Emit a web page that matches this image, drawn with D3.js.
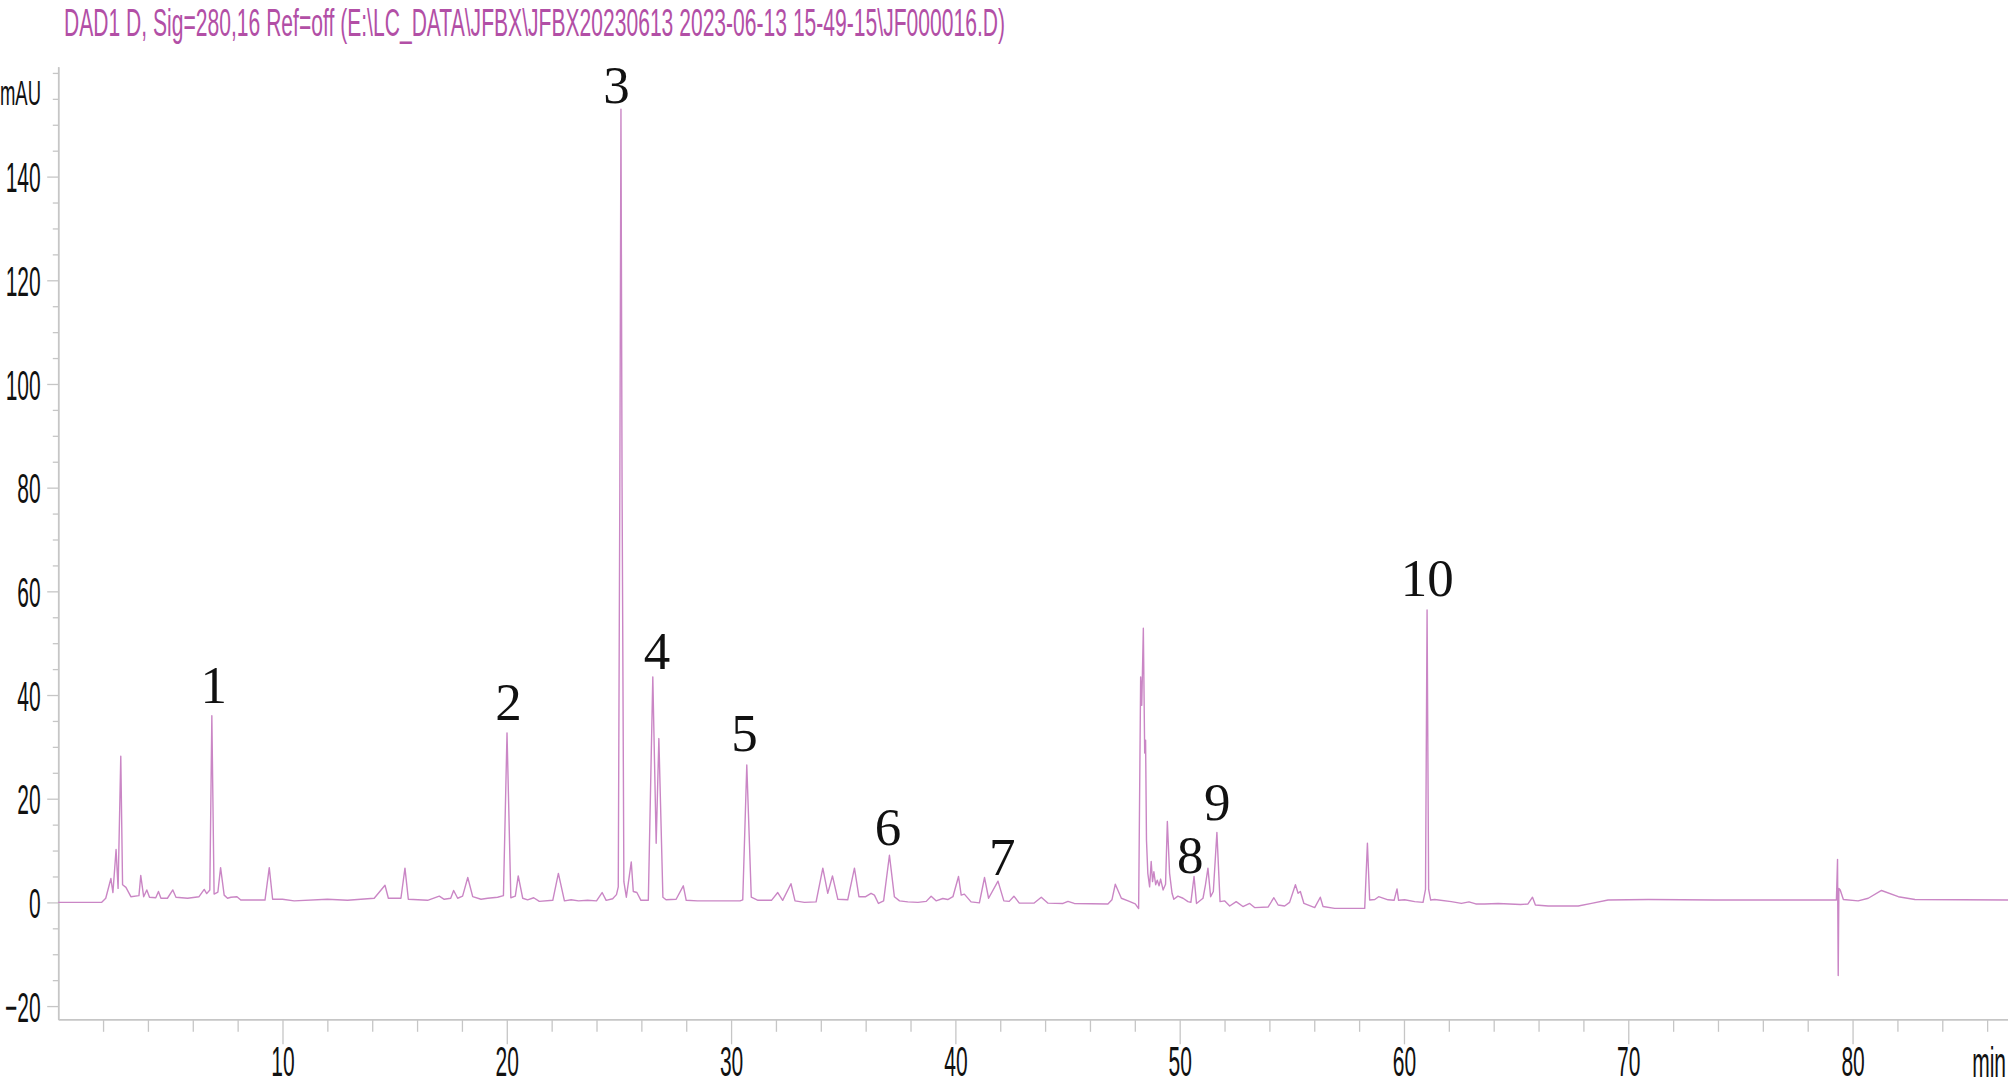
<!DOCTYPE html>
<html><head><meta charset="utf-8">
<script src="https://cdn.jsdelivr.net/npm/d3@7"></script>
<style>
html,body{margin:0;padding:0;background:#fff;overflow:hidden}
svg{display:block}
</style></head><body>
<svg id="chart" width="2008" height="1086"></svg>
<script>
// ---------- data ----------
const titleText = "DAD1 D, Sig=280,16 Ref=off (E:\\LC_DATA\\JFBX\\JFBX20230613 2023-06-13 15-49-15\\JF000016.D)";
const yUnit = "mAU";
const xUnit = "min";
const xDomain = [0, 86.93];
const yDomain = [-22.55, 161.2];
const xMajorTicks = [10, 20, 30, 40, 50, 60, 70, 80];
const xMinorTicks = [2, 4, 6, 8, 12, 14, 16, 18, 22, 24, 26, 28, 32, 34, 36, 38, 42, 44, 46, 48, 52, 54, 56, 58, 62, 64, 66, 68, 72, 74, 76, 78, 82, 84, 86];
const yMajorTicks = [-20, 0, 20, 40, 60, 80, 100, 120, 140];
const yMinorTicks = [-15, -10, -5, 5, 10, 15, 25, 30, 35, 45, 50, 55, 65, 70, 75, 85, 90, 95, 105, 110, 115, 125, 130, 135, 145, 150, 155, 160];

// peak annotations: name, retention time (min), label baseline (mAU)
const peakNames = ["1", "2", "3", "4", "5", "6", "7", "8", "9", "10"];
const peakLabelTimes = [6.94, 20.08, 24.89, 26.70, 30.60, 37.00, 42.09, 50.47, 51.68, 61.04];
const peakLabelValues = [38.5, 35.2, 154.2, 45.0, 29.2, 11.1, 5.3, 5.7, 15.9, 59.1];

// chromatogram trace: [time (min), absorbance (mAU)]
const trace = [
[0,0],[1.93,0],[2.12,0.8],[2.35,4.6],[2.44,1.9],[2.58,10.2],[2.67,2.7],[2.79,28.2],[2.87,3.4],[3.02,2.9],[3.24,1.1],[3.6,1.3],[3.68,5.2],[3.81,1.1],[3.95,2.4],[4.07,1.0],[4.35,0.9],[4.47,2.1],[4.58,0.8],[4.87,0.8],[5.11,2.4],[5.25,1.0],[5.77,0.8],[6.28,1.1],[6.51,2.5],[6.62,1.7],[6.76,2.4],[6.85,36.0],[6.95,1.6],[7.12,2.0],[7.24,6.7],[7.40,1.4],[7.55,0.8],[7.70,1.0],[7.97,1.1],[8.14,0.45],[9.22,0.45],[9.41,6.7],[9.56,0.6],[10.0,0.6],[10.52,0.3],[12.0,0.6],[12.9,0.4],[14.09,0.8],[14.57,3.3],[14.72,0.8],[15.28,0.8],[15.46,6.6],[15.61,0.6],[16.47,0.4],[16.99,1.2],[17.21,0.6],[17.5,0.8],[17.63,2.3],[17.81,0.8],[18.03,1.2],[18.26,4.8],[18.48,1.1],[18.85,0.6],[19.15,0.8],[19.59,1.0],[19.85,1.3],[20.01,32.7],[20.18,0.9],[20.38,1.2],[20.51,5.1],[20.71,0.8],[20.93,0.5],[21.2,0.9],[21.45,0.2],[22.05,0.4],[22.30,5.6],[22.57,0.3],[22.87,0.5],[23.2,0.3],[23.6,0.4],[24.0,0.3],[24.25,1.9],[24.43,0.4],[24.72,0.7],[24.89,1.5],[24.97,3.0],[25.04,80.0],[25.09,153.0],[25.14,80.0],[25.22,4.0],[25.33,1.0],[25.55,7.8],[25.64,2.1],[25.8,1.9],[25.98,0.4],[26.31,0.4],[26.51,43.5],[26.66,11.4],[26.78,31.6],[26.96,1.0],[27.1,0.5],[27.55,0.6],[27.87,3.2],[28.0,0.4],[28.5,0.3],[29.5,0.3],[30.4,0.3],[30.52,0.5],[30.70,26.5],[30.90,1.0],[31.2,0.4],[31.8,0.4],[32.08,1.9],[32.3,0.4],[32.67,3.6],[32.85,0.3],[33.27,0.0],[33.79,0.1],[34.09,6.6],[34.31,1.75],[34.52,5.1],[34.76,0.6],[35.2,0.5],[35.5,6.6],[35.7,1.1],[36.0,1.1],[36.24,1.75],[36.39,1.4],[36.57,-0.2],[36.8,0.3],[37.06,9.1],[37.28,1.1],[37.51,0.3],[37.88,0.1],[38.33,0.0],[38.7,0.2],[38.92,1.2],[39.14,0.3],[39.44,0.75],[39.66,0.55],[39.89,1.1],[40.14,5.0],[40.26,1.4],[40.4,1.6],[40.7,0.1],[41.07,-0.1],[41.3,4.8],[41.48,0.8],[41.9,4.1],[42.16,0.3],[42.4,0.2],[42.61,1.2],[42.85,-0.15],[43.5,-0.15],[43.83,1.0],[44.13,-0.15],[44.8,-0.2],[45.02,0.2],[45.3,-0.2],[46.8,-0.3],[46.98,0.5],[47.13,3.5],[47.4,0.8],[47.7,0.3],[48.02,-0.3],[48.17,-1.2],[48.26,43.5],[48.31,38.0],[48.38,52.9],[48.44,28.8],[48.48,31.3],[48.52,12.0],[48.58,5.6],[48.66,3.0],[48.73,7.9],[48.79,4.0],[48.85,5.9],[48.93,3.4],[49.0,4.3],[49.08,3.2],[49.15,4.5],[49.26,2.4],[49.37,3.5],[49.45,15.6],[49.55,5.6],[49.66,1.75],[49.74,0.6],[49.92,1.2],[50.15,0.8],[50.37,0.15],[50.5,0.0],[50.64,5.0],[50.75,-0.2],[51.04,0.8],[51.15,3.4],[51.26,6.6],[51.38,1.1],[51.5,2.1],[51.66,13.5],[51.8,0.15],[52.0,0.3],[52.23,-0.7],[52.52,0.15],[52.82,-0.8],[53.12,-0.2],[53.34,-1.0],[53.94,-0.9],[54.2,0.9],[54.39,-0.5],[54.68,-0.7],[54.9,0.0],[55.16,3.4],[55.28,1.75],[55.38,2.1],[55.54,-0.2],[56.02,-1.0],[56.27,1.0],[56.39,-0.8],[56.91,-1.15],[58.25,-1.15],[58.37,11.4],[58.47,0.46],[58.7,0.55],[58.87,1.1],[59.29,0.5],[59.56,0.4],[59.69,2.6],[59.76,0.4],[60.03,0.5],[60.48,0.15],[60.85,0.0],[60.96,2.5],[61.03,56.4],[61.1,2.5],[61.19,0.46],[61.37,0.55],[62.11,0.15],[62.56,-0.2],[62.9,0.1],[63.2,-0.3],[63.6,-0.3],[64.2,-0.2],[65.2,-0.4],[65.53,-0.3],[65.73,1.0],[65.86,-0.5],[66.43,-0.7],[67.77,-0.7],[68.36,-0.2],[69.1,0.46],[70.89,0.55],[73.86,0.46],[79.28,0.46],[79.33,8.3],[79.36,-14.1],[79.39,2.7],[79.45,2.4],[79.59,0.55],[80.25,0.3],[80.7,0.8],[81.29,2.3],[82.04,1.1],[82.78,0.55],[86.93,0.46]
];

// ---------- drawing ----------
const svg = d3.select("#chart");
const W = 2008, H = 1086;
svg.append("rect").attr("width", W).attr("height", H).attr("fill", "#fff");

const x = d3.scaleLinear().domain(xDomain).range([58.2, 2008]);
const y = d3.scaleLinear().domain(yDomain).range([1019.3, 66.7]);

const axisColor = "#c6c6c6";
const sansFont = "'Liberation Sans', Arial, sans-serif";
const xLabelScale = 2.0;
const xLabelBaseline = 1076.5;
const xLabelY = (xLabelBaseline - 1019.3) / xLabelScale;

function styleAxis(g) {
  g.selectAll("path.domain").attr("stroke", axisColor).attr("stroke-width", 1.5);
  g.selectAll(".tick line").attr("stroke", axisColor).attr("stroke-width", 1.3);
}

// y axis minor
const gyMinor = svg.append("g").attr("transform", `translate(${x(0)},0)`)
  .call(d3.axisLeft(y).tickValues(yMinorTicks).tickSize(5.4).tickSizeOuter(0).tickFormat(""));
styleAxis(gyMinor);
// y axis major
const gy = svg.append("g").attr("transform", `translate(${x(0)},0)`)
  .call(d3.axisLeft(y).tickValues(yMajorTicks).tickSize(11).tickPadding(6.5).tickSizeOuter(0).tickFormat(d3.format("d")));
styleAxis(gy);
gy.selectAll(".tick text")
  .attr("font-family", sansFont).attr("font-size", 21).attr("fill", "#111")
  .attr("dy", "0.36em")
  .attr("transform", "scale(1,2)");

// x axis minor
const gxMinor = svg.append("g").attr("transform", `translate(0,${y(yDomain[0])})`)
  .call(d3.axisBottom(x).tickValues(xMinorTicks).tickSize(12.5).tickSizeOuter(0).tickFormat(""));
styleAxis(gxMinor);
// x axis major
const gx = svg.append("g").attr("transform", `translate(0,${y(yDomain[0])})`)
  .call(d3.axisBottom(x).tickValues(xMajorTicks).tickSize(25).tickSizeOuter(0).tickFormat(d3.format("d")));
styleAxis(gx);
gx.selectAll(".tick text")
  .attr("font-family", sansFont).attr("font-size", 21).attr("fill", "#111")
  .attr("y", xLabelY).attr("dy", 0)
  .attr("transform", `scale(1,${xLabelScale})`);

// unit labels
svg.append("g").attr("transform", "translate(0,105) scale(1,1.9)")
  .append("text").attr("x", 0).attr("y", 0)
  .attr("font-family", sansFont).attr("font-size", 18.5).attr("fill", "#111")
  .attr("textLength", 41).attr("lengthAdjust", "spacingAndGlyphs")
  .text(yUnit);
svg.append("g").attr("transform", `translate(2006,${xLabelBaseline}) scale(1,${xLabelScale})`)
  .append("text").attr("text-anchor", "end")
  .attr("font-family", sansFont).attr("font-size", 21).attr("fill", "#111")
  .text(xUnit);

// title
svg.append("g").attr("transform", "translate(64,36) scale(1,1.85)")
  .append("text").attr("x", 0).attr("y", 0)
  .attr("font-family", sansFont).attr("font-size", 21).attr("fill", "#b24fa6")
  .attr("textLength", 941).attr("lengthAdjust", "spacingAndGlyphs")
  .text(titleText);

// trace
const line = d3.line().x(d => x(d[0])).y(d => y(d[1]));
svg.append("path").datum(trace)
  .attr("d", line)
  .attr("fill", "none")
  .attr("stroke", "#ca86c5")
  .attr("stroke-width", 1.4)
  .attr("stroke-linejoin", "round");

// peak labels
svg.append("g").selectAll("text").data(peakNames).join("text")
  .attr("x", (d, i) => x(peakLabelTimes[i]))
  .attr("y", (d, i) => y(peakLabelValues[i]))
  .attr("text-anchor", "middle")
  .attr("font-family", "'Liberation Serif', 'Times New Roman', serif")
  .attr("font-size", 53)
  .attr("fill", "#111")
  .text(d => d);
</script>
</body></html>
